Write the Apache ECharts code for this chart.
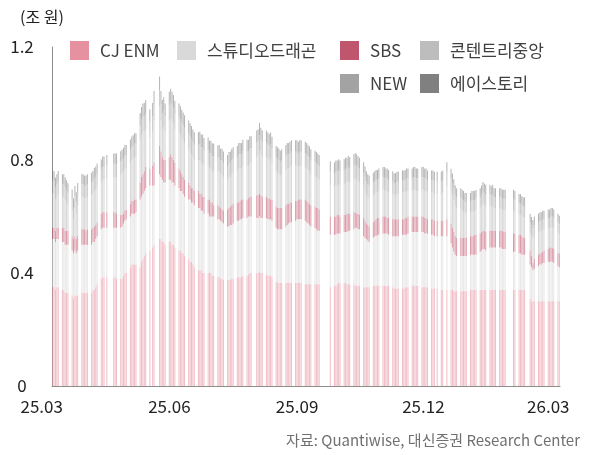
<!DOCTYPE html>
<html>
<head>
<meta charset="utf-8">
<script src="https://cdn.jsdelivr.net/npm/echarts@6/dist/echarts.min.js"></script>
<style>
  html, body { margin: 0; padding: 0; background: #fff; }
  #chart { width: 590px; height: 455px; }
</style>
</head>
<body>
<div id="chart"></div>
<script>
// calendar range of the date axis, KRX holidays inside it
const startDate = '2025-03-24'
const endDate = '2026-03-24'
const holidays = ['2025-05-01', '2025-05-05', '2025-05-06', '2025-06-03', '2025-06-06', '2025-08-15',
  '2025-10-03', '2025-10-06', '2025-10-07', '2025-10-08', '2025-10-09', '2025-12-25', '2025-12-31',
  '2026-01-01', '2026-02-16', '2026-02-17', '2026-02-18', '2026-03-02']
const tickDates = ['2025-03-24', '2025-06-24', '2025-09-24', '2025-12-24', '2026-03-24']
const tickLabels = ['25.03', '25.06', '25.09', '25.12', '26.03']
const yTicks = [0, 0.4, 0.8, 1.2]

const seriesNames = ['CJ ENM', '스튜디오드래곤', 'SBS', '콘텐트리중앙', 'NEW', '에이스토리']
const seriesColors = ['#E691A0', '#D9D9D9', '#C0566E', '#BDBDBD', '#A3A3A3', '#808080']

// values per trading day (조 원), one line per week
const cjEnm = [
  .35, .35, .34, .35, .35,
  .34, .34, .33, .33, .33,
  .32, .31, .32, .32, .32,
  .33, .33, .33, .33, .33,
  .33, .34, .34, .35, .36,
  .38, .385, .385, .385,
  .385, .385, .38,
  .38, .38, .39, .40, .40,
  .42, .43, .43, .43, .43,
  .42, .44, .45, .46, .47,
  .48, .49, .50,
  .52, .52, .51, .51, .50,
  .51, .51, .50, .50, .49,
  .48, .48, .47, .47, .46,
  .45, .44, .44, .43, .42,
  .41, .41, .41, .40, .40,
  .40, .40, .40, .39, .39,
  .385, .385, .38, .38, .375,
  .375, .375, .375, .38, .38,
  .385, .385, .385, .385, .39,
  .39, .395, .40, .40,
  .40, .40, .405, .40, .40,
  .395, .39, .39, .39, .385,
  .37, .365, .365, .365, .365,
  .365, .365, .365, .365, .365,
  .365, .365, .365, .365, .365,
  .36, .36, .36, .36, .36,
  .36, .36, .36, .36,
  .35,
  .355, .355, .36, .365, .365,
  .365, .365, .36, .36, .36,
  .36, .355, .355, .355, .355,
  .35, .35, .35, .35, .35,
  .355, .355, .355, .355, .355,
  .355, .355, .355, .355, .355,
  .35, .345, .345, .345, .345,
  .345, .345, .35, .35, .35,
  .355, .355, .355, .355, .355,
  .35, .35, .35, .35, .35,
  .345, .345, .345, .345,
  .34, .34, .34,
  .34, .34, .335, .335, .335,
  .335, .335, .335, .335, .335,
  .34, .34, .34, .34, .34,
  .34, .34, .34, .34, .34,
  .34, .34, .34, .34, .34,
  .34, .34, .34, .34, .34,
  .34, .34,
  .34, .34, .34, .34, .34,
  .31, .30, .30, .30,
  .30, .30, .30, .30, .30,
  .30, .30, .30, .30, .30,
  .30, .30
]

const studioDragon = [
  .17, .17, .17, .17, .17,
  .17, .17, .17, .17, .17,
  .16, .16, .16, .15, .16,
  .17, .17, .17, .17, .17,
  .17, .17, .17, .17, .17,
  .175, .175, .175, .175,
  .175, .175, .18,
  .18, .185, .185, .185, .19,
  .18, .18, .18, .18, .185,
  .24, .23, .23, .23, .23,
  .23, .22, .21,
  .23, .22, .22, .21, .22,
  .22, .22, .22, .22, .22,
  .22, .21, .22, .21, .21,
  .21, .22, .21, .22, .22,
  .22, .22, .21, .22, .21,
  .21, .20, .20, .21, .21,
  .205, .205, .205, .20, .20,
  .19, .19, .195, .19, .195,
  .20, .20, .205, .205, .205,
  .205, .205, .20, .20,
  .195, .195, .195, .195, .195,
  .20, .20, .20, .20, .20,
  .19, .19, .19, .19, .19,
  .20, .205, .21, .215, .215,
  .22, .225, .225, .225, .225,
  .225, .22, .215, .21, .205,
  .20, .195, .19, .19,
  .185,
  .18, .18, .18, .175, .175,
  .18, .18, .185, .19, .19,
  .195, .205, .205, .20, .20,
  .18, .175, .17, .165, .16,
  .17, .175, .175, .18, .18,
  .185, .185, .185, .185, .18,
  .18, .185, .185, .185, .185,
  .19, .19, .185, .185, .19,
  .19, .19, .19, .19, .19,
  .195, .195, .19, .19, .19,
  .19, .19, .185, .185,
  .19, .19, .19,
  .165, .15, .14, .13, .125,
  .125, .125, .125, .125, .125,
  .125, .125, .125, .125, .125,
  .135, .14, .145, .145, .14,
  .15, .15, .15, .15, .15,
  .15, .15, .145, .145, .145,
  .135, .135,
  .13, .13, .125, .125, .125,
  .12, .12, .11, .115,
  .125, .13, .13, .135, .135,
  .14, .14, .14, .14, .135,
  .125, .12
]

const sbs = [
  .04, .04, .04, .04, .04,
  .05, .05, .05, .05, .05,
  .05, .05, .05, .05, .05,
  .055, .055, .055, .05, .055,
  .055, .05, .055, .05, .05,
  .055, .055, .055, .055,
  .055, .055, .05,
  .045, .04, .035, .035, .035,
  .045, .045, .045, .05, .045,
  .06, .07, .07, .07, .075,
  .06, .07, .08,
  .10, .09, .08, .08, .08,
  .08, .09, .09, .08, .08,
  .07, .07, .06, .06, .06,
  .06, .05, .05, .05, .05,
  .06, .05, .06, .05, .06,
  .05, .06, .05, .05, .04,
  .05, .045, .045, .045, .045,
  .06, .065, .065, .07, .07,
  .065, .065, .065, .07, .065,
  .065, .065, .07, .07,
  .08, .08, .08, .08, .075,
  .075, .075, .075, .07, .075,
  .075, .075, .075, .075, .075,
  .075, .075, .07, .07, .07,
  .07, .065, .07, .07, .07,
  .075, .075, .075, .075, .075,
  .075, .075, .08, .075,
  .065,
  .065, .065, .065, .065, .06,
  .06, .06, .065, .06, .06,
  .06, .055, .05, .055, .05,
  .065, .06, .055, .055, .055,
  .055, .055, .06, .06, .06,
  .06, .06, .06, .055, .06,
  .06, .06, .06, .06, .06,
  .055, .055, .06, .06, .06,
  .055, .055, .055, .055, .055,
  .055, .055, .055, .055, .05,
  .055, .055, .055, .055,
  .055, .055, .06,
  .07, .07, .07, .065, .065,
  .065, .065, .065, .065, .065,
  .065, .065, .065, .07, .07,
  .065, .065, .065, .065, .065,
  .06, .06, .06, .06, .06,
  .06, .06, .065, .06, .06,
  .065, .065,
  .065, .065, .065, .06, .06,
  .05, .04, .025, .035,
  .04, .04, .04, .04, .045,
  .045, .05, .05, .05, .05,
  .045, .05
]

const contentreeJoongang = [
  .125, .12, .11, .11, .12,
  .11, .11, .11, .10, .09,
  .09, .07, .10, .09, .11,
  .115, .115, .11, .115, .115,
  .12, .12, .125, .125, .125,
  .11, .115, .115, .12,
  .125, .125, .13,
  .145, .15, .15, .15, .145,
  .145, .145, .15, .15, .15,
  .15, .15, .15, .14, .135,
  .11, .12, .15,
  .14, .11, .10, .12, .10,
  .13, .13, .13, .13, .12,
  .13, .13, .13, .13, .13,
  .12, .12, .12, .11, .11,
  .11, .12, .11, .12, .11,
  .12, .11, .12, .11, .12,
  .12, .125, .12, .125, .12,
  .105, .11, .105, .11, .11,
  .11, .12, .115, .11, .12,
  .12, .115, .12, .12,
  .135, .14, .155, .145, .14,
  .14, .14, .135, .145, .13,
  .125, .125, .12, .115, .12,
  .125, .125, .125, .125, .13,
  .125, .125, .115, .12, .12,
  .115, .115, .115, .115, .11,
  .11, .11, .105, .105,
  .11,
  .105, .11, .105, .11, .11,
  .11, .115, .11, .115, .11,
  .115, .12, .12, .115, .115,
  .115, .11, .105, .10, .10,
  .095, .095, .095, .09, .095,
  .095, .095, .09, .095, .09,
  .09, .085, .085, .09, .09,
  .095, .095, .09, .095, .09,
  .09, .095, .095, .09, .09,
  .095, .095, .095, .095, .095,
  .095, .095, .095, .095,
  .095, .10, .12,
  .118, .118, .113, .108, .103,
  .103, .098, .093, .088, .088,
  .083, .088, .088, .083, .088,
  .088, .093, .098, .093, .093,
  .088, .083, .088, .078, .078,
  .078, .078, .073, .078, .078,
  .083, .078,
  .073, .073, .073, .073, .073,
  .063, .073, .088, .083,
  .078, .078, .078, .078, .073,
  .073, .068, .073, .073, .073,
  .073, .068
]

const newCo = [
  .045, .045, .044, .045, .046,
  .045, .045, .044, .044, .044,
  .043, .042, .044, .043, .045,
  .045, .045, .045, .045, .045,
  .045, .046, .046, .046, .047,
  .046, .046, .046, .047,
  .047, .047, .047,
  .046, .046, .047, .047, .047,
  .047, .047, .047, .048, .048,
  .053, .054, .055, .056, .056,
  .055, .056, .057,
  .058, .057, .056, .056, .055,
  .056, .056, .056, .055, .055,
  .055, .055, .054, .054, .054,
  .055, .055, .055, .054, .054,
  .054, .055, .055, .055, .054,
  .055, .054, .054, .054, .054,
  .051, .051, .05, .05, .05,
  .049, .049, .05, .05, .05,
  .05, .05, .05, .05, .051,
  .051, .051, .052, .052,
  .052, .052, .053, .052, .052,
  .052, .051, .051, .051, .051,
  .05, .05, .05, .049, .049,
  .049, .05, .05, .05, .05,
  .05, .05, .05, .05, .05,
  .05, .05, .049, .049, .049,
  .049, .049, .049, .049,
  .048,
  .048, .049, .049, .049, .049,
  .049, .049, .049, .05, .05,
  .05, .05, .05, .049, .049,
  .046, .046, .045, .045, .045,
  .045, .045, .045, .045, .045,
  .045, .045, .045, .045, .045,
  .045, .044, .044, .044, .044,
  .044, .044, .045, .045, .045,
  .045, .045, .045, .045, .045,
  .045, .045, .045, .045, .044,
  .044, .044, .044, .044,
  .044, .044, .046,
  .042, .041, .041, .04, .04,
  .04, .04, .04, .039, .039,
  .039, .04, .04, .04, .04,
  .04, .04, .041, .041, .041,
  .041, .041, .041, .04, .04,
  .04, .04, .04, .04, .04,
  .04, .04,
  .04, .04, .039, .039, .039,
  .037, .036, .036, .037,
  .037, .037, .037, .037, .037,
  .037, .037, .037, .037, .037,
  .037, .036
]

const astory = [
  .035, .035, .034, .035, .035,
  .035, .035, .034, .034, .034,
  .033, .032, .034, .033, .034,
  .035, .035, .035, .035, .035,
  .035, .035, .036, .036, .036,
  .036, .036, .036, .036,
  .036, .036, .036,
  .035, .035, .036, .036, .036,
  .036, .036, .036, .037, .037,
  .043, .044, .045, .046, .046,
  .045, .046, .047,
  .048, .047, .046, .046, .045,
  .046, .046, .046, .045, .045,
  .045, .045, .044, .044, .044,
  .045, .045, .045, .044, .044,
  .044, .045, .045, .045, .044,
  .045, .044, .044, .044, .044,
  .041, .041, .04, .04, .04,
  .039, .039, .04, .04, .04,
  .04, .04, .04, .04, .041,
  .041, .041, .042, .042,
  .042, .042, .043, .042, .042,
  .042, .041, .041, .041, .041,
  .04, .04, .04, .039, .039,
  .039, .04, .04, .04, .04,
  .04, .04, .04, .04, .04,
  .04, .04, .039, .039, .039,
  .039, .039, .039, .039,
  .038,
  .038, .039, .039, .039, .039,
  .039, .039, .039, .04, .04,
  .04, .04, .04, .039, .039,
  .036, .036, .035, .035, .035,
  .035, .035, .035, .035, .035,
  .035, .035, .035, .035, .035,
  .035, .034, .034, .034, .034,
  .034, .034, .035, .035, .035,
  .035, .035, .035, .035, .035,
  .035, .035, .035, .035, .034,
  .034, .034, .034, .034,
  .034, .034, .036,
  .034, .033, .033, .032, .032,
  .032, .032, .032, .031, .031,
  .031, .032, .032, .032, .032,
  .032, .032, .033, .033, .033,
  .033, .033, .033, .032, .032,
  .032, .032, .032, .032, .032,
  .032, .032,
  .032, .032, .031, .031, .031,
  .030, .029, .029, .030,
  .030, .030, .030, .030, .030,
  .030, .030, .030, .030, .030,
  .030, .029
]

const seriesValues = [cjEnm, studioDragon, sbs, contentreeJoongang, newCo, astory]

// calendar days for the date axis
const pad = (n) => (n < 10 ? '0' : '') + n
const days = []
const tradeFlags = []
for (let t = Date.parse(startDate + 'T00:00:00Z'); t <= Date.parse(endDate + 'T00:00:00Z'); t += 86400000) {
  const d = new Date(t)
  const key = d.getUTCFullYear() + '-' + pad(d.getUTCMonth() + 1) + '-' + pad(d.getUTCDate())
  const wd = d.getUTCDay()
  days.push(key)
  tradeFlags.push(wd !== 0 && wd !== 6 && !holidays.includes(key))
}

const spreadOnDays = (vals) => {
  let k = 0
  return days.map((_, i) => (tradeFlags[i] && k < vals.length ? vals[k++] : '-'))
}

const isTick = (idx, val) => tickDates.includes(val)
const fontFamily = '"Noto Sans CJK KR", "Noto Sans", sans-serif'

const legendPos = [[70, 41], [177, 41], [340, 41], [420, 41], [340, 74], [420, 74]]

const chart = echarts.init(document.getElementById('chart'))
chart.setOption({
  animation: false,
  textStyle: { fontFamily },
  grid: { left: 52, right: 30, top: 47, bottom: 69 },
  graphic: [
    {
      type: 'text', left: 20, top: 9,
      style: { text: '(조 원)', fontSize: 16, fill: '#222', fontFamily }
    },
    {
      type: 'text', right: 10, top: 433,
      style: { text: '자료: Quantiwise, 대신증권 Research Center', fontSize: 15, fill: '#707070', fontFamily }
    }
  ],
  legend: seriesNames.map((name, i) => ({
    data: [{ name, itemStyle: { color: seriesColors[i], opacity: 1 } }],
    left: legendPos[i][0],
    top: legendPos[i][1],
    padding: 0,
    itemWidth: 19,
    itemHeight: 19,
    icon: 'rect',
    selectedMode: false,
    textStyle: { fontSize: 17, color: '#404040', fontFamily, padding: [0, 0, 0, 6] }
  })),
  xAxis: {
    type: 'category',
    data: days,
    axisLine: { lineStyle: { color: '#8c8c8c' } },
    axisTick: { alignWithLabel: true, interval: isTick, inside: true, length: 4, lineStyle: { color: '#8c8c8c' } },
    axisLabel: {
      interval: isTick,
      formatter: (val) => tickLabels[tickDates.indexOf(val)],
      fontSize: 17,
      color: '#222',
      margin: 12,
      padding: [0, 22, 0, 0]
    }
  },
  yAxis: {
    type: 'value',
    min: yTicks[0],
    max: yTicks[yTicks.length - 1],
    interval: 0.4,
    splitLine: { show: false },
    axisLine: { show: true, lineStyle: { color: '#8c8c8c' } },
    axisTick: { show: false },
    axisLabel: { fontSize: 17, color: '#222', align: 'center', margin: 30 }
  },
  series: seriesNames.map((name, i) => ({
    name,
    type: 'bar',
    stack: 'total',
    barCategoryGap: '45%',
    itemStyle: { color: seriesColors[i], opacity: 0.6 },
    data: spreadOnDays(seriesValues[i])
  }))
})
</script>
</body>
</html>
